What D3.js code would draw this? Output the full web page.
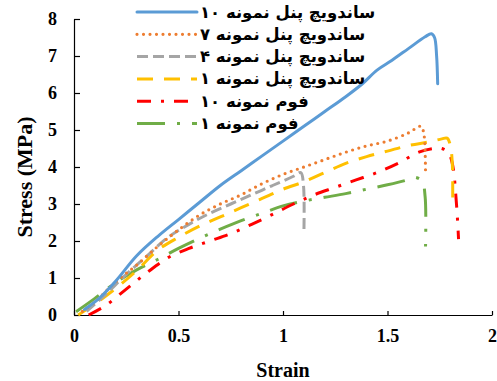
<!DOCTYPE html>
<html><head><meta charset="utf-8">
<script src="https://cdn.jsdelivr.net/npm/d3@7"></script>
<style>body{margin:0;background:#fff}</style>
</head><body>
<script>
const xTicks = [0, 0.5, 1, 1.5, 2];
const yTicks = [0, 1, 2, 3, 4, 5, 6, 7, 8];
const seriesNames = ["ساندویچ پنل نمونه ۱۰", "ساندویچ پنل نمونه ۷", "ساندویچ پنل نمونه ۴", "ساندویچ پنل نمونه ۱", "فوم نمونه ۱۰", "فوم نمونه ۱"];

const sandwich10 = [[0.05,0.15],[0.12,0.45],[0.2,0.92],[0.3,1.6],[0.4,2.12],[0.5,2.58],[0.6,3.04],[0.7,3.5],[0.8,3.9],[0.9,4.3],[1.0,4.7],[1.1,5.1],[1.2,5.5],[1.3,5.9],[1.38,6.25],[1.45,6.62],[1.52,6.88],[1.6,7.2],[1.68,7.52],[1.71,7.6],[1.725,7.5],[1.735,7.0],[1.74,6.25]];
const sandwich7 = [[0.04,0.1],[0.1,0.35],[0.2,0.9],[0.3,1.35],[0.4,1.85],[0.5,2.3],[0.6,2.7],[0.7,3.0],[0.8,3.25],[0.9,3.55],[1.0,3.8],[1.1,4.0],[1.2,4.2],[1.3,4.4],[1.4,4.57],[1.5,4.7],[1.6,4.92],[1.66,5.1],[1.675,4.85],[1.68,4.4],[1.682,3.85]];
const sandwich4 = [[0.06,0.1],[0.15,0.55],[0.25,1.1],[0.35,1.6],[0.45,2.1],[0.55,2.45],[0.65,2.75],[0.75,3.0],[0.85,3.25],[0.95,3.5],[1.05,3.75],[1.085,3.85],[1.098,3.5],[1.1,2.2]];
const sandwich1 = [[0.02,0],[0.1,0.3],[0.2,0.72],[0.3,1.2],[0.4,1.75],[0.5,2.1],[0.6,2.4],[0.7,2.65],[0.8,2.9],[0.9,3.15],[1.0,3.4],[1.1,3.6],[1.2,3.85],[1.3,4.1],[1.4,4.28],[1.5,4.43],[1.6,4.58],[1.7,4.68],[1.76,4.76],[1.785,4.78],[1.8,4.6],[1.81,4.1],[1.812,3.1]];
const foam10 = [[0.07,0],[0.15,0.25],[0.25,0.7],[0.35,1.15],[0.45,1.55],[0.55,1.8],[0.65,2.0],[0.75,2.2],[0.85,2.45],[0.95,2.72],[1.05,3.0],[1.15,3.25],[1.25,3.45],[1.35,3.65],[1.45,3.85],[1.55,4.1],[1.65,4.4],[1.72,4.5],[1.76,4.5],[1.79,4.4],[1.81,4.1],[1.83,3.0],[1.84,2.05]];
const foam1 = [[0.01,0.09],[0.1,0.45],[0.2,0.88],[0.3,1.22],[0.4,1.5],[0.5,1.8],[0.6,2.07],[0.7,2.32],[0.8,2.55],[0.9,2.75],[1.0,2.95],[1.1,3.08],[1.2,3.18],[1.3,3.28],[1.4,3.4],[1.5,3.52],[1.6,3.66],[1.63,3.72],[1.665,3.62],[1.68,3.2],[1.682,1.85]];

const seriesData = [sandwich10, sandwich7, sandwich4, sandwich1, foam10, foam1];
const styles = [
  {color:"#5B9BD5", dash:null, cap:"round", w:3},
  {color:"#ED7D31", dash:"0,6.5", cap:"round", w:3.2},
  {color:"#A5A5A5", dash:"11,5", cap:"butt", w:3},
  {color:"#FFC000", dash:"16,11", cap:"butt", w:3},
  {color:"#FF0000", dash:"14,10,3,10", cap:"butt", w:3},
  {color:"#70AD47", dash:"28,12,3,12", cap:"butt", w:3}
];

const W = 497, H = 381;
const svg = d3.select("body").append("svg").attr("width", W).attr("height", H);
const x = d3.scaleLinear().domain([0, 2]).range([74, 492]);
const y = d3.scaleLinear().domain([0, 8]).range([315, 19]);

const serif = "'Liberation Serif','Times New Roman',serif";

const xAxis = svg.append("g").attr("transform", "translate(0,315)")
  .call(d3.axisBottom(x).tickValues(xTicks).tickSizeInner(-4).tickSizeOuter(0).tickPadding(14).tickFormat(d => d));
const yAxis = svg.append("g").attr("transform", "translate(74,0)")
  .call(d3.axisLeft(y).tickValues(yTicks).tickSizeInner(-6).tickSizeOuter(0).tickPadding(17));
[xAxis, yAxis].forEach(a => {
  a.selectAll("path.domain").attr("stroke", "#000").attr("stroke-width", 1.2);
  a.selectAll(".tick line").attr("stroke", "#000").attr("stroke-width", 1.2);
  a.selectAll(".tick text").attr("font-family", serif).attr("font-weight", "bold").attr("font-size", 18).attr("fill", "#000");
});

svg.append("text").attr("x", 283).attr("y", 377).attr("text-anchor", "middle")
  .attr("font-family", serif).attr("font-weight", "bold").attr("font-size", 20).text("Strain");
svg.append("text").attr("transform", "translate(32,177) rotate(-90)").attr("text-anchor", "middle")
  .attr("font-family", serif).attr("font-weight", "bold").attr("font-size", 22).text("Stress (MPa)");

const line = d3.line().x(d => x(d[0])).y(d => y(d[1])).curve(d3.curveCatmullRom.alpha(0.5));

for (let i = seriesData.length - 1; i >= 0; i--) {
  const s = styles[i];
  svg.append("path").datum(seriesData[i]).attr("d", line)
    .attr("fill", "none").attr("stroke", s.color).attr("stroke-width", s.w)
    .attr("stroke-dasharray", s.dash).attr("stroke-linecap", s.cap).attr("stroke-linejoin", "round");
}

const legendY = [12, 34.3, 56.6, 78.9, 101.2, 123.5];
seriesNames.forEach((name, i) => {
  const s = styles[i];
  const g = svg.append("g");
  g.append("line").attr("x1", 137).attr("x2", 197).attr("y1", legendY[i]).attr("y2", legendY[i])
    .attr("stroke", s.color).attr("stroke-width", s.w).attr("stroke-dasharray", s.dash).attr("stroke-linecap", s.cap);
  g.append("text").attr("x", 200).attr("y", legendY[i] + 5.5).attr("text-anchor", "start")
    .attr("font-family", "'DejaVu Sans', sans-serif").attr("font-weight", "bold").attr("font-size", 16.5).attr("fill", "#000")
    .text(name);
});
</script>
</body></html>
